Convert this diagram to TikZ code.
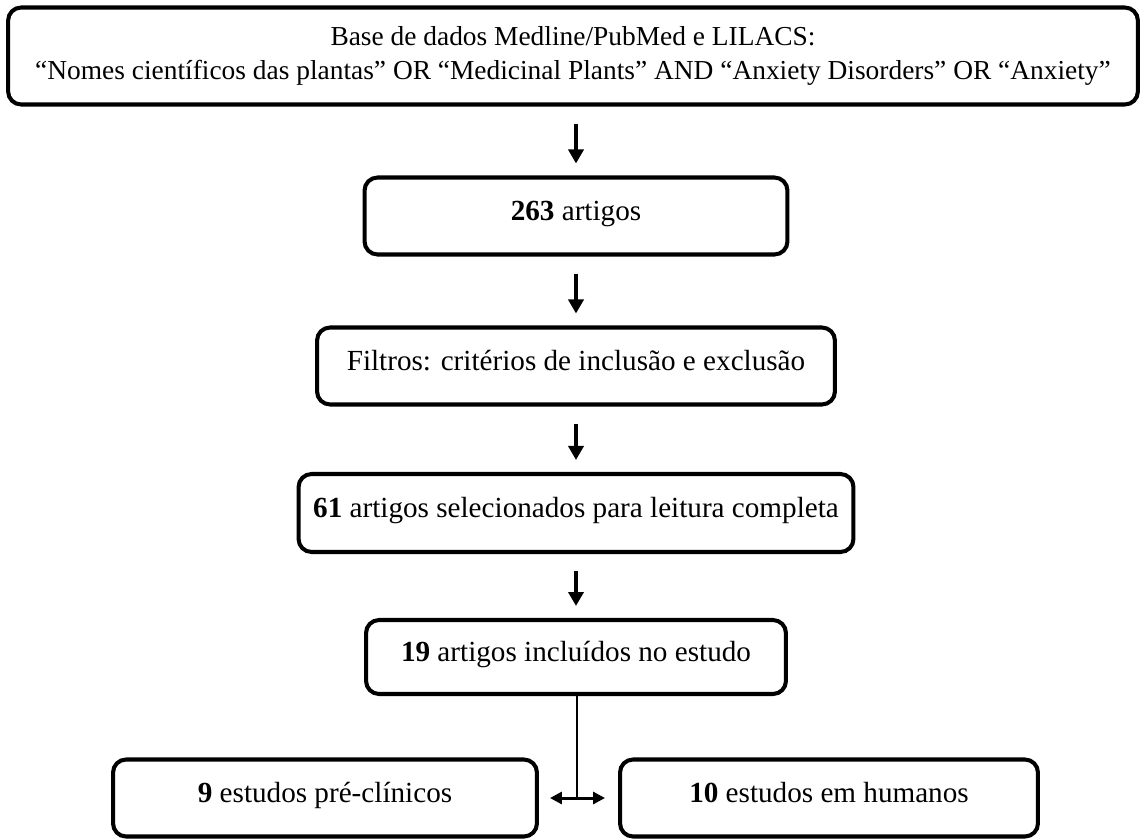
\documentclass[tikz,border=0pt]{standalone}
\usepackage{fontspec}
\setmainfont{Liberation Serif}
\usetikzlibrary{arrows.meta}

\begin{document}
\begin{tikzpicture}[x=0.02cm,y=-0.02cm]
					\tikzstyle{every node}+=[inner sep=0pt, font=\fontsize{16.6}{20}\selectfont]
					\tikzstyle{caixa}=[draw=black, line width=2.3pt, rounded corners=0.26cm, align=center]
					\tikzstyle{linha}=[caixa, text height=0.72em, text depth=0.22em]
					\tikzstyle{seta}=[-{Triangle[length=0.28cm,width=0.3cm]}, line width=2pt, shorten <=0.34cm, shorten >=0.24cm]
					\useasboundingbox (0,0) rectangle (1140,839);
					\node [caixa, minimum width=22.6cm, minimum height=1.94cm, font=\fontsize{15.6}{19.5}\selectfont] (base) at (573,56) {Base de dados Medline/PubMed e LILACS:\\``Nomes científicos das plantas'' OR ``Medicinal Plants'' AND ``Anxiety Disorders'' OR ``Anxiety''};
					\node [linha, minimum width=8.46cm, minimum height=1.54cm] (total) at (576,216) {\textbf{263} artigos};
					\node [linha, minimum width=10.36cm, minimum height=1.54cm] (filtros) at (576,366) {Filtros: critérios de inclusão e exclusão};
					\node [linha, minimum width=11.1cm, minimum height=1.56cm] (leitura) at (576,513) {\textbf{61} artigos selecionados para leitura completa};
					\node [linha, minimum width=8.4cm, minimum height=1.48cm] (incluidos) at (576,657) {\textbf{19} artigos incluídos no estudo};
					\node [linha, minimum width=8.48cm, minimum height=1.54cm] (preclin) at (325,798) {\textbf{9} estudos pré-clínicos};
					\node [linha, minimum width=8.36cm, minimum height=1.54cm] (humanos) at (829,798) {\textbf{10} estudos em humanos};
					\draw [seta] (base.south -| total.north) -- (total.north);
					\draw [seta] (total) -- (filtros);
					\draw [seta] (filtros) -- (leitura);
					\draw [seta] (leitura) -- (incluidos);
					\coordinate (divide) at (577,798);
					\draw [black, line width=1.7pt] (incluidos.south -| divide) -- (divide);
					\draw [{Triangle[length=0.24cm,width=0.24cm]}-{Triangle[length=0.24cm,width=0.24cm]}, line width=1.7pt, shorten <=0.22cm, shorten >=0.26cm] (preclin.east) -- (humanos.west);
				\end{tikzpicture}
\end{document}
